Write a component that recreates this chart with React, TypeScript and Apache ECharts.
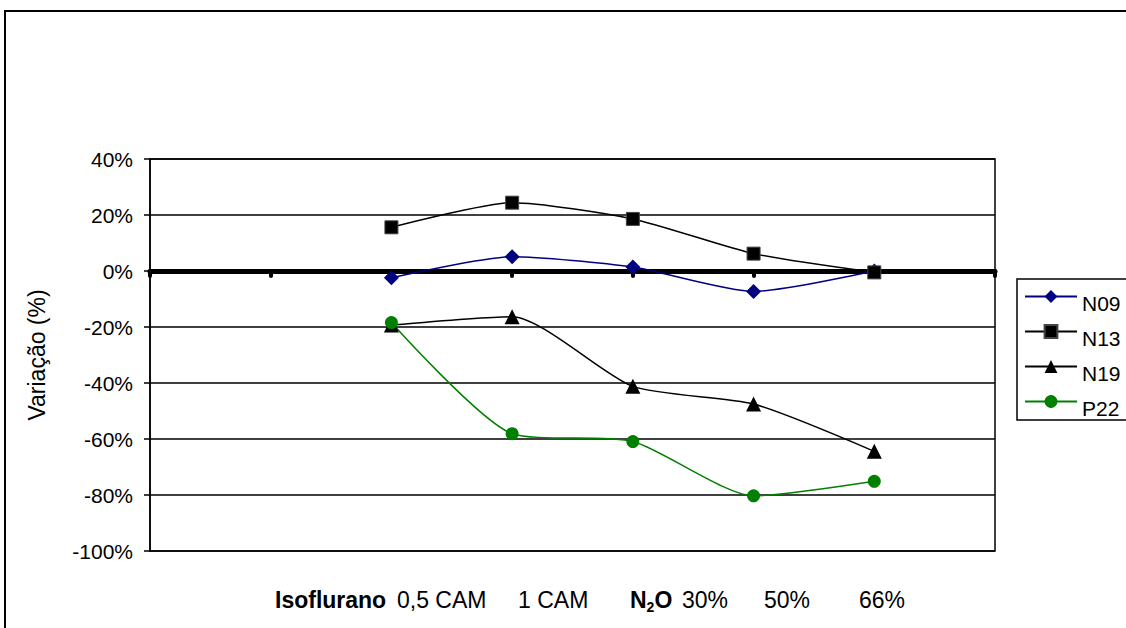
import React, { useEffect, useRef } from "react";
import * as echarts from "echarts";

const categories = ["", "", "0,5 CAM", "1 CAM", "N2O 30%", "50%", "66%", ""];
const yTicks = { min: -100, max: 40, interval: 20 };
const n09 = [null, null, -2.4, 5.1, 1.4, -7.3, 0, null];
const n13 = [null, null, 15.6, 24.4, 18.6, 6.2, -0.5, null];
const n19 = [null, null, -19.3, -16.3, -41.2, -47.5, -64.4, null];
const p22 = [null, null, -18.4, -58.1, -60.9, -80.3, -75.1, null];
const yAxisTitle = "Variação (%)";
const bottomLabels = [
  { text: "{b|Isoflurano}", x: 275 },
  { text: "0,5 CAM", x: 397 },
  { text: "1 CAM", x: 518 },
  { text: "{b|N}{sub|2}{b|O}", x: 630 },
  { text: "30%", x: 682 },
  { text: "50%", x: 764 },
  { text: "66%", x: 859 },
];

const FONT = "'Liberation Sans', Arial, Helvetica, sans-serif";

export default function App() {
  const ref = useRef<HTMLDivElement>(null);
  useEffect(() => {
    if (!ref.current) return;
    const chart = echarts.init(ref.current, undefined, { renderer: "svg" });
    const lineSeries = (name: string, data: any[], color: string, symbol: string, size: number, border?: string) => ({
      name,
      type: "line",
      data,
      smooth: 0.22,
      symbol,
      symbolSize: size,
      showSymbol: true,
      lineStyle: { color, width: 1.5 },
      itemStyle: { color, borderWidth: border ? 1 : 0, borderColor: border || color },
      z: 3,
    });
    chart.setOption({
      animation: false,
      backgroundColor: "#fff",
      textStyle: { fontFamily: FONT },
      grid: {
        left: 150,
        right: 131,
        top: 159,
        bottom: 77,
        show: true,
        borderColor: "#000",
        borderWidth: 1.5,
        backgroundColor: "transparent",
      },
      xAxis: {
        type: "category",
        data: categories,
        boundaryGap: false,
        axisLine: { onZero: true, lineStyle: { color: "#000", width: 5 } },
        axisTick: { show: true, length: 5, lineStyle: { color: "#000", width: 4, cap: "round" } },
        axisLabel: { show: false },
        splitLine: { show: false },
        z: 2,
      },
      yAxis: {
        type: "value",
        min: yTicks.min,
        max: yTicks.max,
        interval: yTicks.interval,
        name: yAxisTitle,
        nameLocation: "middle",
        nameRotate: 90,
        nameGap: 102,
        nameTextStyle: { fontSize: 23, color: "#000", fontFamily: FONT },
        axisLine: { show: true, lineStyle: { color: "#000", width: 1.5 } },
        axisTick: { show: true, length: 6, lineStyle: { color: "#000", width: 1.5 } },
        axisLabel: {
          formatter: "{value}%",
          fontSize: 21,
          color: "#000",
          margin: 17,
          fontFamily: FONT,
        },
        splitLine: { show: true, lineStyle: { color: "#000", width: 1.5 } },
      },
      legend: {
        data: ["N09", "N13", "N19", "P22"],
        orient: "vertical",
        left: 1017,
        top: 279,
        itemWidth: 52,
        itemHeight: 16,
        itemGap: 0,
        padding: [0, 15, 1, 7],
        borderColor: "#000",
        borderWidth: 1.5,
        backgroundColor: "#fff",
        formatter: (name: string) => `{t|${name}}`,
        textStyle: {
          fontSize: 21,
          color: "#000",
          fontFamily: FONT,
          rich: {
            t: {
              fontSize: 21,
              color: "#000",
              fontFamily: FONT,
              lineHeight: 20,
              padding: [14, 0, 0, 0],
            },
          },
        },
      },
      graphic: [
        {
          type: "rect",
          z: -10,
          silent: true,
          shape: { x: 5, y: 11, width: 1400, height: 900 },
          style: { fill: "none", stroke: "#000", lineWidth: 2 },
        },
        ...bottomLabels.map((l) => ({
          type: "text",
          x: l.x,
          y: 600,
          style: {
            text: l.text,
            fontSize: 23,
            fontFamily: FONT,
            fill: "#000",
            verticalAlign: "middle",
            align: "left",
            rich: {
              b: { fontSize: 23, fontWeight: "bold", fontFamily: FONT, fill: "#000", lineHeight: 28 },
              sub: {
                fontSize: 14,
                fontWeight: "bold",
                fontFamily: FONT,
                fill: "#000",
                lineHeight: 19,
                verticalAlign: "bottom",
              },
            },
          },
        })),
      ],
      series: [
        lineSeries("N09", n09, "#000080", "diamond", 15),
        lineSeries("N13", n13, "#000000", "rect", 13, "#444"),
        lineSeries("N19", n19, "#000000", "triangle", 15),
        lineSeries("P22", p22, "#008000", "circle", 13),
      ],
    });
    return () => chart.dispose();
  }, []);
  return (
    <div
      ref={ref}
      style={{ position: "fixed", left: 0, top: 0, width: 1126, height: 628, background: "#fff" }}
    />
  );
}
